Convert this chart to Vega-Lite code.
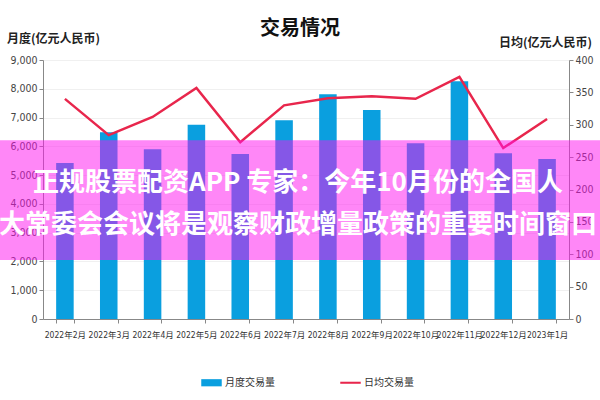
{
  "$schema": "https://vega.github.io/schema/vega-lite/v6.json",
  "autosize": {"type": "none"},
  "width": 526,
  "height": 259,
  "padding": {"left": 43, "top": 60, "right": 31, "bottom": 81},
  "background": "white",
  "config": {
    "font": "Noto Sans CJK SC",
    "view": {"stroke": null}
  },
  "title": {
    "text": "交易情况",
    "fontSize": 20,
    "fontWeight": "bold",
    "color": "#111111",
    "anchor": "middle",
    "offset": -7,
    "dx": -6
  },
  "datasets": {
    "main": [
      {"month": "2022年2月", "vol": 5420, "daily": 340},
      {"month": "2022年3月", "vol": 6490, "daily": 284},
      {"month": "2022年4月", "vol": 5900, "daily": 312},
      {"month": "2022年5月", "vol": 6750, "daily": 357},
      {"month": "2022年6月", "vol": 5730, "daily": 273},
      {"month": "2022年7月", "vol": 6910, "daily": 330},
      {"month": "2022年8月", "vol": 7810, "daily": 341},
      {"month": "2022年9月", "vol": 7260, "daily": 344},
      {"month": "2022年10月", "vol": 6110, "daily": 340},
      {"month": "2022年11月", "vol": 8260, "daily": 374},
      {"month": "2022年12月", "vol": 5760, "daily": 264},
      {"month": "2023年1月", "vol": 5560, "daily": 309}
    ]
  },
  "layer": [
    {
      "data": {"name": "main"},
      "layer": [
        {
          "mark": {"type": "bar", "color": "#0a9fdf"},
          "encoding": {
            "x": {
              "field": "month",
              "type": "nominal",
              "sort": null,
              "scale": {"paddingInner": 0.6, "paddingOuter": 0.3},
              "axis": {
                "title": null,
                "labelAngle": 0,
                "labelFont": "Liberation Sans Narrow, DejaVu Sans Condensed, Noto Sans CJK SC",
                "labelFontSize": 8.5,
                "labelColor": "#333333",
                "labelPadding": 7,
                "tickBand": "extent",
                "tickColor": "#888888",
                "tickSize": 4,
                "domainColor": "#888888",
                "grid": false
              }
            },
            "y": {
              "field": "vol",
              "type": "quantitative",
              "scale": {"domain": [0, 9000]},
              "axis": {
                "title": "月度(亿元人民币)",
                "titleAngle": 0,
                "titleAlign": "center",
                "titleBaseline": "middle",
                "titleX": 10,
                "titleY": -22,
                "titleFontSize": 12,
                "titleFontWeight": "bold",
                "titleColor": "#222222",
                "values": [0, 1000, 2000, 3000, 4000, 5000, 6000, 7000, 8000, 9000],
                "labelExpr": "format(datum.value, ',')",
                "labelFont": "Liberation Sans Narrow, DejaVu Sans Condensed, Noto Sans CJK SC",
                "labelFontSize": 10.5,
                "labelColor": "#444444",
                "tickColor": "#888888",
                "tickSize": 4,
                "domainColor": "#888888",
                "grid": true,
                "gridColor": "#f0f0f0"
              }
            },
            "color": {
              "datum": "月度交易量",
              "type": "nominal",
              "scale": {"domain": ["月度交易量", "日均交易量"], "range": ["#0a9fdf", "#e8264c"]},
              "legend": {
                "title": null,
                "orient": "none",
                "direction": "horizontal",
                "legendX": 158,
                "legendY": 312,
                "symbolType": "M-1,-0.35H1V0.35H-1Z",
                "symbolSize": 420,
                "symbolStrokeWidth": 0,
                "columnPadding": 65,
                "labelFontSize": 10,
                "labelColor": "#333333",
                "labelOffset": 3,
                "encode": {
                  "symbols": {
                    "update": {
                      "shape": {"signal": "datum.value === '月度交易量' ? 'M-1,-0.35H1V0.35H-1Z' : 'M-1,-0.1H1V0.1H-1Z'"}
                    }
                  }
                }
              }
            }
          }
        },
        {
          "mark": {"type": "line", "strokeWidth": 2.5, "color": "#e8264c"},
          "encoding": {
            "x": {"field": "month", "type": "nominal", "sort": null},
            "y": {
              "field": "daily",
              "type": "quantitative",
              "scale": {"domain": [0, 400]},
              "axis": {
                "orient": "right",
                "title": "日均(亿元人民币)",
                "titleAngle": 0,
                "titleAlign": "center",
                "titleBaseline": "middle",
                "titleX": -24,
                "titleY": -18,
                "titleFontSize": 12,
                "titleFontWeight": "bold",
                "titleColor": "#222222",
                "values": [0, 50, 100, 150, 200, 250, 300, 350, 400],
                "labelFont": "Liberation Sans Narrow, DejaVu Sans Condensed, Noto Sans CJK SC",
                "labelFontSize": 10.5,
                "labelColor": "#444444",
                "tickColor": "#888888",
                "tickSize": 4,
                "domainColor": "#888888",
                "grid": false
              }
            },
            "color": {"datum": "日均交易量", "type": "nominal"}
          }
        }
      ],
      "resolve": {"scale": {"y": "independent"}}
    },
    {
      "data": {"values": [{}]},
      "layer": [
        {
          "mark": {"type": "rect", "color": "#ff10f0", "opacity": 0.5, "clip": false},
          "encoding": {
            "x": {"datum": -0.1, "type": "quantitative", "scale": {"domain": [0, 1]}, "axis": null},
            "x2": {"datum": 1.1},
            "y": {"datum": 6215, "type": "quantitative", "scale": {"domain": [0, 9000]}, "axis": null},
            "y2": {"datum": 2050}
          }
        },
        {
          "mark": {"type": "text", "text": "正规股票配资APP 专家：今年10月份的全国人", "fontSize": 26, "fontWeight": "bold", "color": "white", "align": "center", "baseline": "middle", "dx": -8},
          "encoding": {"y": {"datum": 4725, "type": "quantitative"}}
        },
        {
          "mark": {"type": "text", "text": "大常委会会议将是观察财政增量政策的重要时间窗口", "fontSize": 26, "fontWeight": "bold", "color": "white", "align": "center", "baseline": "middle", "dx": -8},
          "encoding": {"y": {"datum": 3266, "type": "quantitative"}}
        }
      ]
    }
  ],
  "resolve": {"scale": {"x": "independent", "y": "independent"}}
}
